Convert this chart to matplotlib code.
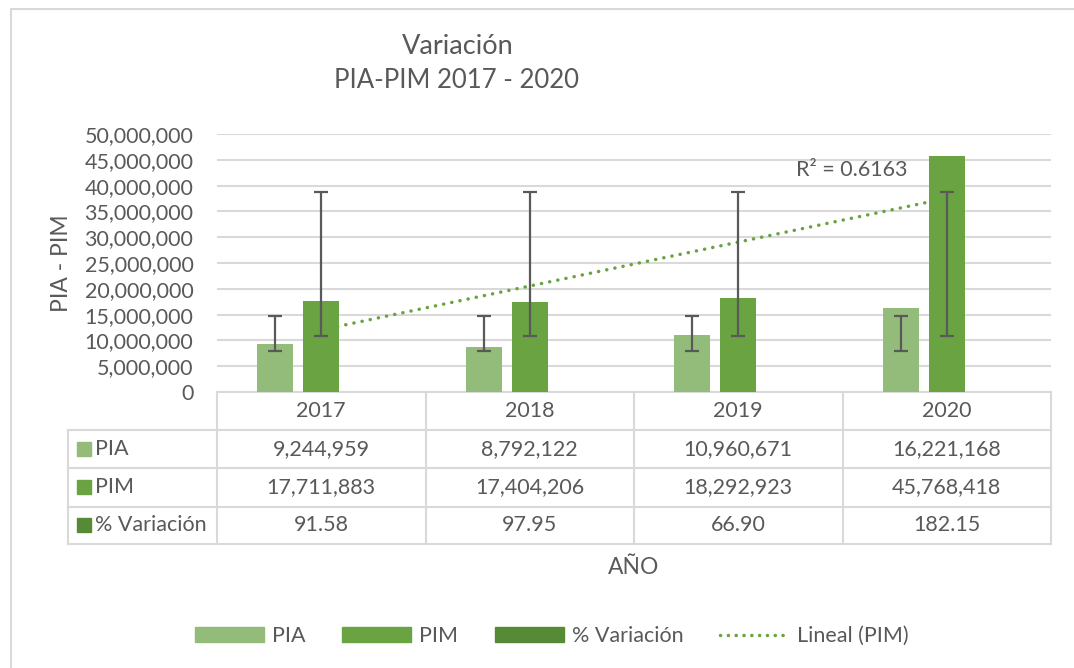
import matplotlib
matplotlib.use('Agg')
import matplotlib.pyplot as plt
from matplotlib.patches import Patch, Rectangle
from matplotlib.lines import Line2D
from matplotlib.ticker import FuncFormatter
import numpy as np

# data
years = ['2017', '2018', '2019', '2020']
pia = [9244959, 8792122, 10960671, 16221168]
pim = [17711883, 17404206, 18292923, 45768418]
variacion = [91.58, 97.95, 66.90, 182.15]
series_names = ['PIA', 'PIM', '% Variación']
y_ticks = [0, 5e6, 10e6, 15e6, 20e6, 25e6, 30e6, 35e6, 40e6, 45e6, 50e6]

C_PIA = '#93bb79'
C_PIM = '#6aa341'
C_VAR = '#578a37'
TXT = '#595959'
GRID = '#d9d9d9'
FS = 15.5

plt.rcParams['font.family'] = ['Lato', 'DejaVu Sans']

W, H = 1074, 668
fig = plt.figure(figsize=(W / 100, H / 100), dpi=100)


def px_box(l, t, r, b):
    return [l / W, 1 - b / H, (r - l) / W, (b - t) / H]


# pixel-coordinate overlay for frame, titles and data table
over = fig.add_axes([0, 0, 1, 1])
over.set_xlim(0, W)
over.set_ylim(H, 0)
over.axis('off')
over.plot([11, 11, W + 5], [H + 5, 9, 9], color=GRID, lw=1.5)

# chart
ax = fig.add_axes(px_box(217, 134, 1051, 392))
ax.set_facecolor('none')
x = np.arange(1, len(years) + 1)
off, bw = 0.22, 0.173
ax.bar(x - off, pia, bw, color=C_PIA, zorder=3)
ax.bar(x, pim, bw, color=C_PIM, zorder=3)
ax.bar(x + off, variacion, bw, color=C_VAR, zorder=3)

# standard deviation error bars (centred on the series mean, like Excel)
for xs, vals in ((x - off, pia), (x, pim)):
    m = np.mean(vals)
    s = np.std(vals, ddof=1)
    ax.errorbar(xs, [m] * len(xs), yerr=s, fmt='none', ecolor=TXT,
                elinewidth=1.6, capsize=4.7, capthick=1.6, zorder=4)

# linear trendline on PIM
k, b0 = np.polyfit(x, pim, 1)
fit = k * x + b0
pim_arr = np.array(pim)
r2 = 1 - np.sum((pim_arr - fit) ** 2) / np.sum((pim_arr - pim_arr.mean()) ** 2)
ax.plot(x, fit, color=C_PIM, lw=2.5, linestyle=(0, (0.05, 2.35)),
        dash_capstyle='round', zorder=2)
ax.text(3.81, 43.0e6, f'R² = {r2:.4f}', ha='right', va='center',
        fontsize=FS, color=TXT, zorder=5)

ax.set_xlim(0.5, 4.5)
ax.set_ylim(0, 50e6)
ax.set_yticks(y_ticks)
ax.yaxis.set_major_formatter(FuncFormatter(lambda v, p: f'{v:,.0f}'))
ax.tick_params(axis='y', length=0, pad=17, labelsize=FS, labelcolor=TXT)
ax.set_xticks([])
ax.yaxis.grid(True, color=GRID, lw=1.5)
ax.set_axisbelow(True)
for sp in ax.spines.values():
    sp.set_visible(False)

# titles
over.text(458, 47, 'Variación', ha='center', va='center', fontsize=19.5, color=TXT)
over.text(456, 81, 'PIA-PIM 2017 - 2020', ha='center', va='center', fontsize=18.5, color=TXT)
over.text(62, 263, 'PIA - PIM', ha='center', va='center', rotation=90,
          fontsize=16.5, color=TXT)
over.text(634, 567, 'AÑO', ha='center', va='center', fontsize=16.5, color=TXT)

# data table
col_edges = [217 + i * 208.5 for i in range(len(years) + 1)]
row_edges = [392, 430, 468, 506.5, 544]
lab_left = 68
tl = dict(color=GRID, lw=1.5)
over.plot([col_edges[0], col_edges[-1]], [row_edges[0]] * 2, **tl)
for ry in row_edges[1:]:
    over.plot([lab_left, col_edges[-1]], [ry, ry], **tl)
over.plot([lab_left, lab_left], [row_edges[1], row_edges[-1]], **tl)
for cx in col_edges:
    over.plot([cx, cx], [row_edges[0], row_edges[-1]], **tl)

centers = [(col_edges[i] + col_edges[i + 1]) / 2 for i in range(len(years))]
for cx, yr in zip(centers, years):
    over.text(cx, (row_edges[0] + row_edges[1]) / 2, yr, ha='center', va='center',
              fontsize=FS, color=TXT)

rows = [
    (series_names[0], C_PIA, [f'{v:,.0f}' for v in pia]),
    (series_names[1], C_PIM, [f'{v:,.0f}' for v in pim]),
    (series_names[2], C_VAR, [f'{v:.2f}' for v in variacion]),
]
for r, (name, col, vals) in enumerate(rows):
    cy = (row_edges[r + 1] + row_edges[r + 2]) / 2
    over.add_patch(Rectangle((77, cy - 7), 14, 14, color=col))
    over.text(95, cy, name, ha='left', va='center', fontsize=FS, color=TXT)
    for cx, s in zip(centers, vals):
        over.text(cx, cy, s, ha='center', va='center', fontsize=FS, color=TXT)

# legend
handles = [
    Patch(color=C_PIA, label='PIA'),
    Patch(color=C_PIM, label='PIM'),
    Patch(color=C_VAR, label='% Variación'),
    Line2D([], [], color=C_PIM, lw=2.5, linestyle=(0, (0.05, 2.2)),
           dash_capstyle='round', label='Lineal (PIM)'),
]
leg = fig.legend(handles=handles, loc='center', ncol=4, frameon=False,
                 bbox_to_anchor=(552 / W, 1 - 636 / H), fontsize=FS,
                 handlelength=3.2, handleheight=0.67, handletextpad=0.38,
                 columnspacing=1.7)
for t in leg.get_texts():
    t.set_color(TXT)

fig.savefig('out.png', dpi=100)
